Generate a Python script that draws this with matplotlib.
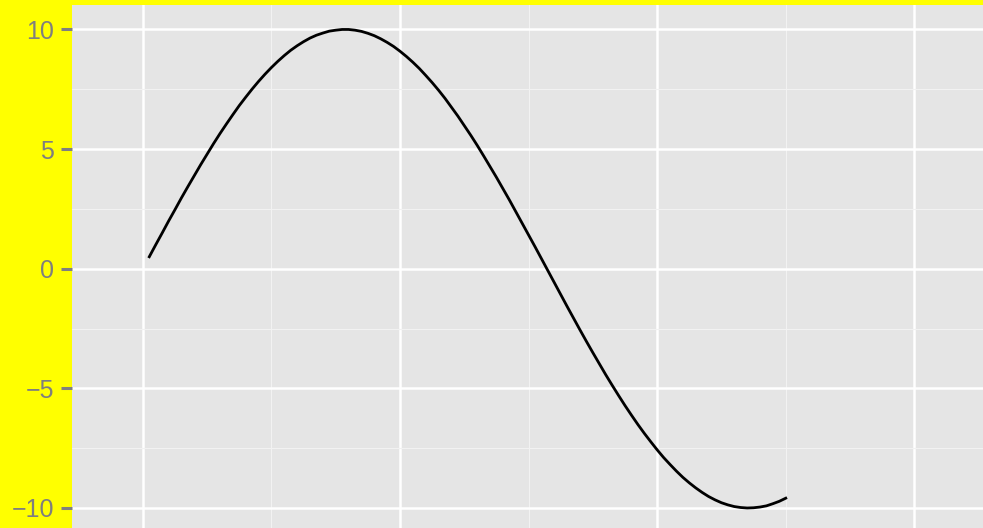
import matplotlib
matplotlib.use('Agg')
from matplotlib import pyplot as plt
from matplotlib.ticker import MultipleLocator

# values
x = [0.05, 0.1, 0.15, 0.2, 0.25, 0.3, 0.35, 0.4, 0.45, 0.5,
     0.55, 0.6, 0.65, 0.7, 0.75, 0.8, 0.85, 0.9, 0.95, 1.0,
     1.05, 1.1, 1.15, 1.2, 1.25, 1.3, 1.35, 1.4, 1.45, 1.5,
     1.55, 1.6, 1.65, 1.7, 1.75, 1.8, 1.85, 1.9, 1.95, 2.0,
     2.05, 2.1, 2.15, 2.2, 2.25, 2.3, 2.35, 2.4, 2.45, 2.5,
     2.55, 2.6, 2.65, 2.7, 2.75, 2.8, 2.85, 2.9, 2.95, 3.0,
     3.05, 3.1, 3.15, 3.2, 3.25, 3.3, 3.35, 3.4, 3.45, 3.5,
     3.55, 3.6, 3.65, 3.7, 3.75, 3.8, 3.85, 3.9, 3.95, 4.0,
     4.05, 4.1, 4.15, 4.2, 4.25, 4.3, 4.35, 4.4, 4.45, 4.5,
     4.55, 4.6, 4.65, 4.7, 4.75, 4.8, 4.85, 4.9, 4.95, 5.0]
y = [0.50, 1.00, 1.49, 1.99, 2.47, 2.96, 3.43, 3.89, 4.35, 4.79,
     5.23, 5.65, 6.05, 6.44, 6.82, 7.17, 7.51, 7.83, 8.13, 8.41,
     8.67, 8.91, 9.13, 9.32, 9.49, 9.64, 9.76, 9.85, 9.93, 9.97,
     10.00, 10.00, 9.97, 9.92, 9.84, 9.74, 9.61, 9.46, 9.29, 9.09,
     8.87, 8.63, 8.37, 8.08, 7.78, 7.46, 7.12, 6.75, 6.38, 5.98,
     5.58, 5.16, 4.72, 4.27, 3.82, 3.35, 2.88, 2.39, 1.90, 1.41,
     0.92, 0.42, -0.08, -0.58, -1.08, -1.58, -2.07, -2.56, -3.04, -3.51,
     -3.97, -4.43, -4.87, -5.30, -5.72, -6.12, -6.51, -6.88, -7.23, -7.57,
     -7.89, -8.18, -8.46, -8.72, -8.95, -9.16, -9.35, -9.52, -9.66, -9.78,
     -9.87, -9.94, -9.98, -10.00, -9.99, -9.96, -9.91, -9.82, -9.72, -9.59]
y_ticks = [-10, -5, 0, 5, 10]
y_labels = ['\u221210', '\u22125', '0', '5', '10']

plt.rcParams['font.family'] = ['Liberation Sans', 'DejaVu Sans']

fig = plt.figure(figsize=(9.83, 5.28), dpi=100)
fig.patch.set_facecolor('#FFFF00')
ax = fig.add_axes([72 / 983, 0.0, 1 - 72 / 983, 1 - 5.3 / 528])
ax.set_facecolor('#E5E5E5')

ax.set_xlim(-0.551, 6.534)
ax.set_ylim(-10.836, 11.01)

ax.xaxis.set_major_locator(MultipleLocator(2))
ax.xaxis.set_minor_locator(MultipleLocator(1))
ax.set_yticks(y_ticks)
ax.set_yticklabels(y_labels)
ax.yaxis.set_minor_locator(MultipleLocator(2.5))

ax.grid(which='major', color='white', linewidth=1.8)
ax.grid(which='minor', color='#F2F2F2', linewidth=0.8)
ax.set_axisbelow(True)

for s in ax.spines.values():
    s.set_visible(False)

ax.tick_params(axis='y', which='major', length=8, width=2.2, color='#7F7F7F',
               labelcolor='#7F7F7F', labelsize=18, pad=5)
ax.tick_params(axis='x', which='both', length=0, labelbottom=False)
ax.tick_params(axis='y', which='minor', length=0)

ax.plot(x, y, color='black', linewidth=2.0)

fig.savefig('out.png', dpi=100, facecolor=fig.get_facecolor())
